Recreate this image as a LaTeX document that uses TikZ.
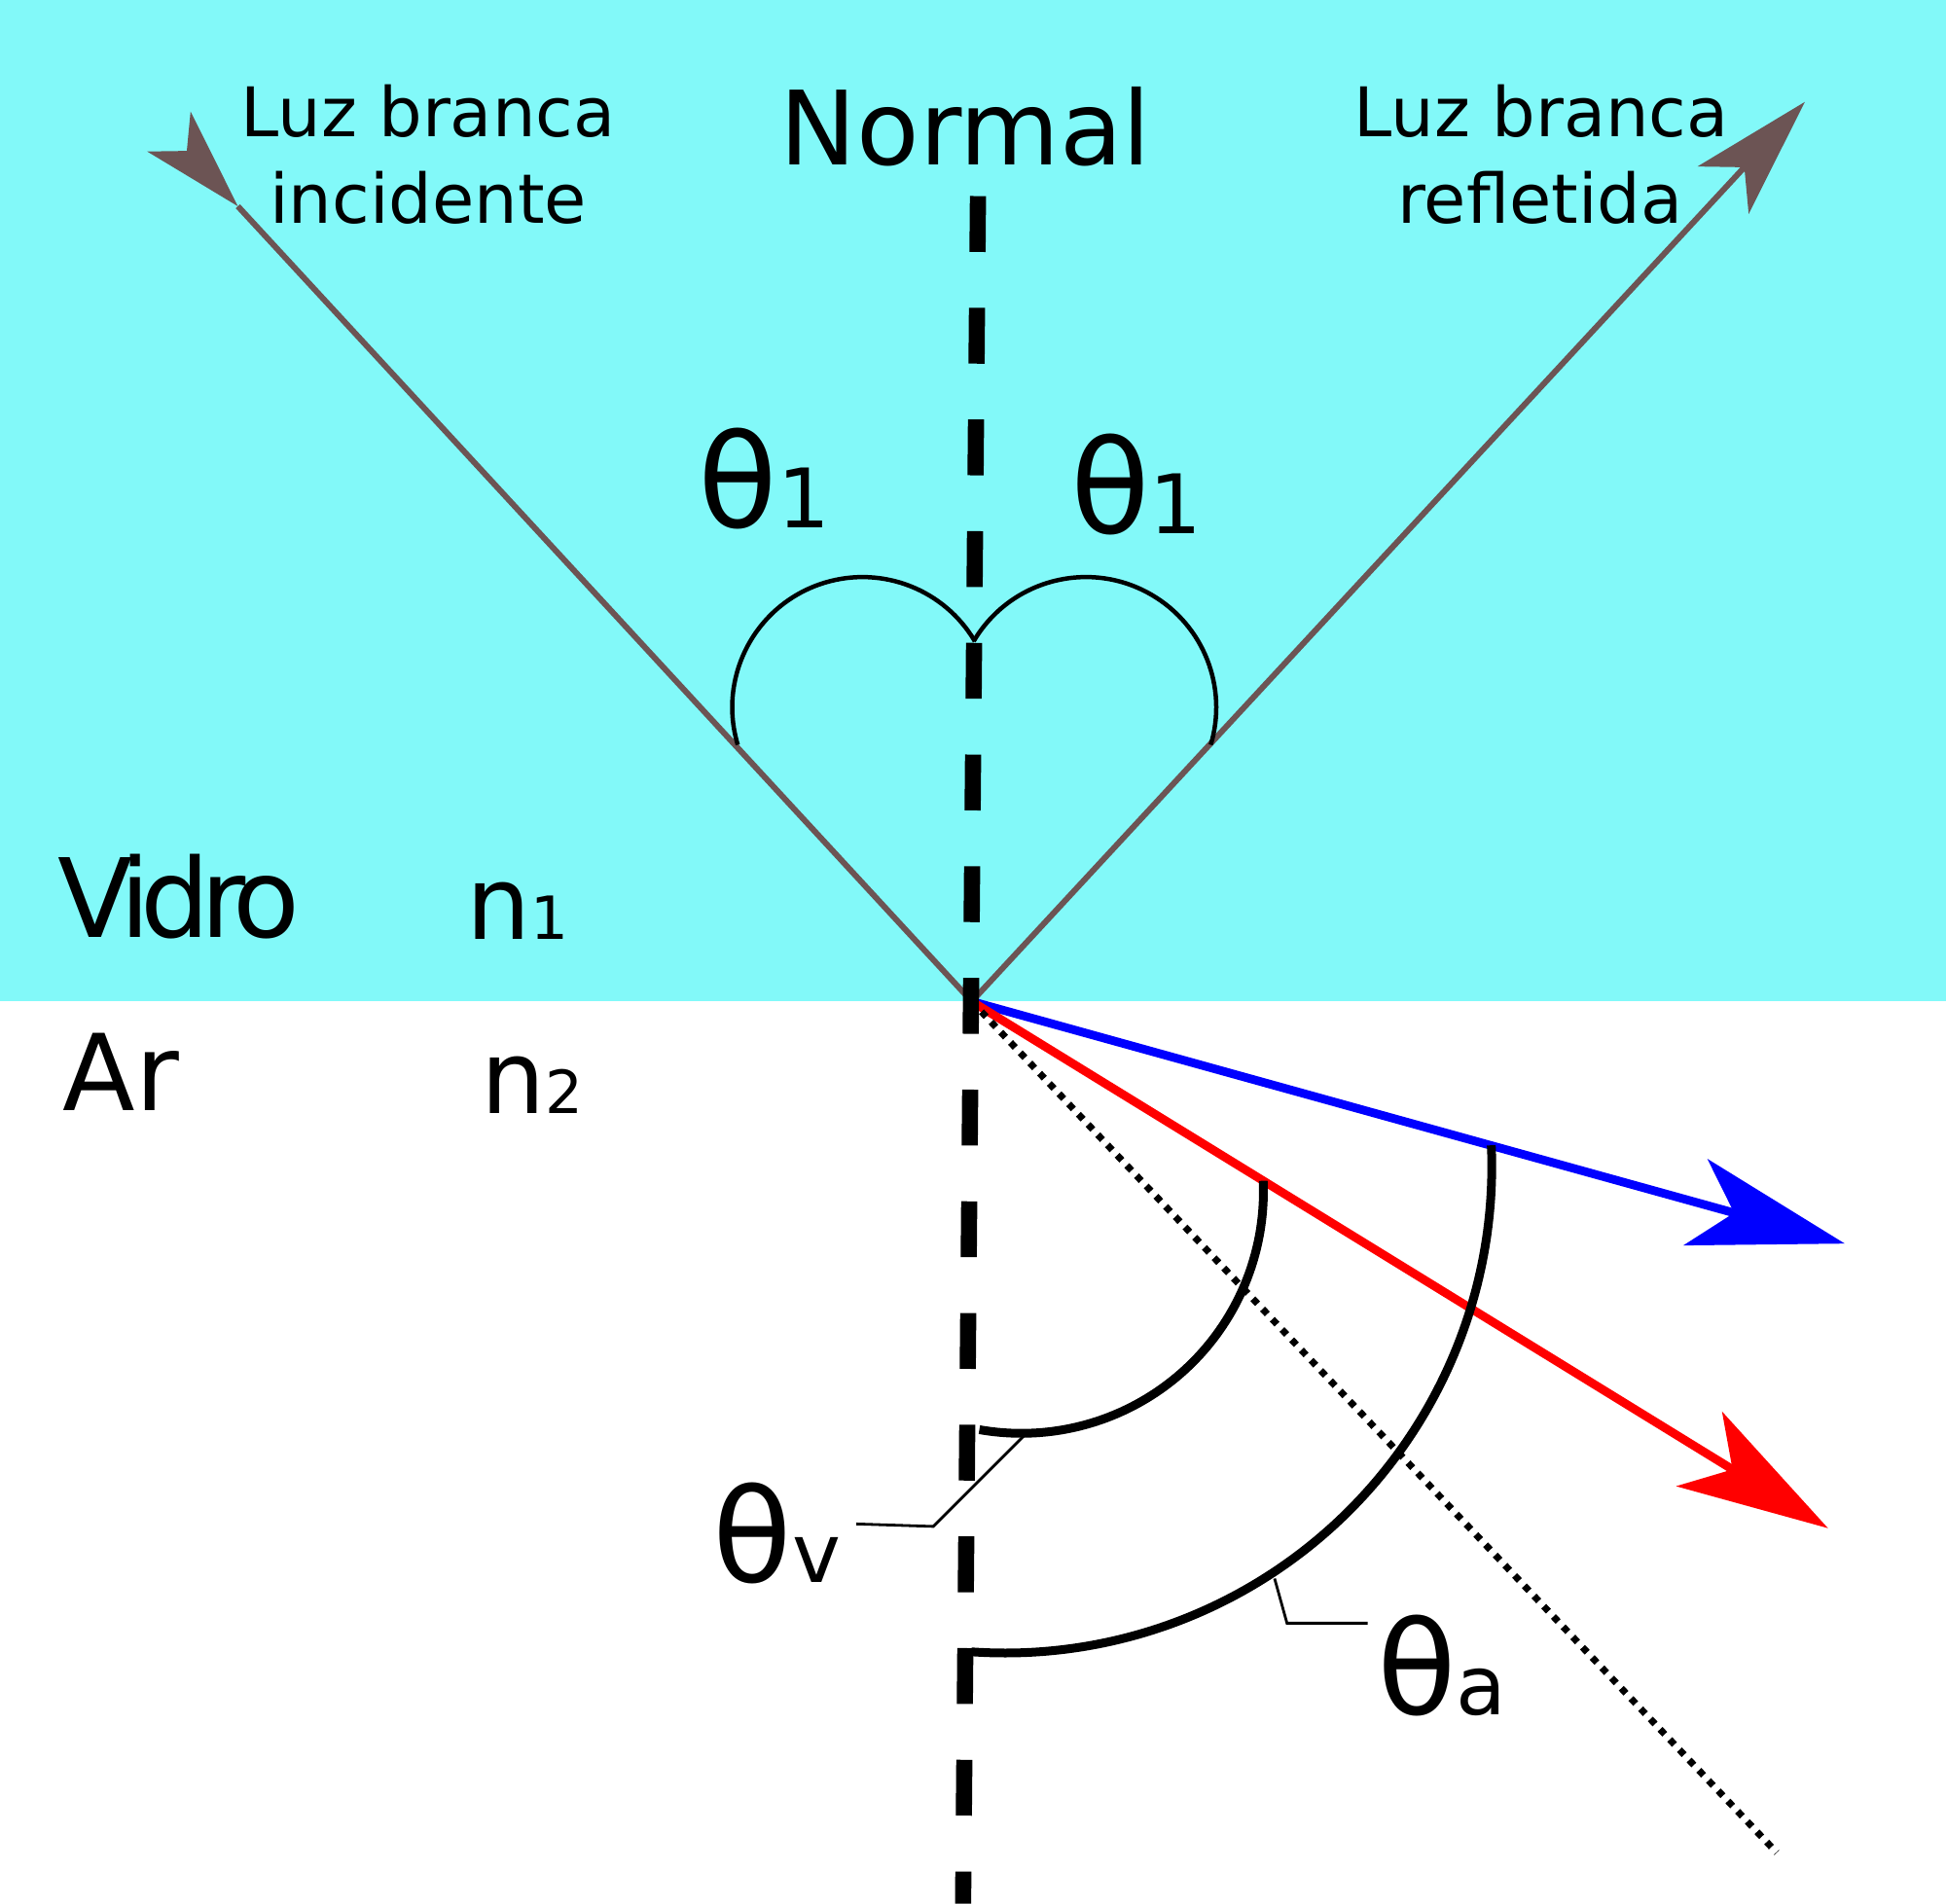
\documentclass[tikz,border=0pt]{standalone}
\usepackage{fontspec}
\setmainfont{DejaVu Sans}
\usetikzlibrary{calc}

\definecolor{vidro}{RGB}{130,249,249}
\definecolor{corraio}{RGB}{108,84,84}

\newcommand{\rotulo}[2]{{\fontsize{38}{40}\selectfont #1}{\fontsize{24}{26}\selectfont #2}}

\tikzset{
  ponta/.pic={\fill (0,0) -- (-1,0.29) -- (-0.74,0) -- (-1,-0.29) -- cycle;},
  normalline/.style={line width=1.66mm, dash pattern=on 5.74mm off 5.74mm},
  raio/.style={draw=corraio, line width=0.6mm},
  cor/.style={line width=0.88mm},
  arco/.style={line width=0.9mm},
  guia/.style={line width=0.28mm},
  rot/.style={inner sep=0pt}
}

\begin{document}
\begin{tikzpicture}[x=0.12755mm,y=-0.12755mm]

  \pgfmathsetmacro{\angInc}{227.3}
  \pgfmathsetmacro{\angRef}{-47.2}
  \pgfmathsetmacro{\angAzul}{15.5}
  \pgfmathsetmacro{\angVerm}{31.6}

  \useasboundingbox (0,0) rectangle (1568,1534);
  \fill[vidro] (0,0) rectangle (1568,807);

  \coordinate (centro) at (783,807);
  \coordinate (topoN) at (788,158);
  \coordinate (baseN) at (776,1534);

  \coordinate (incid) at ($(centro)+(\angInc:872)$);
  \coordinate (refl) at ($(centro)+(\angRef:988)$);
  \coordinate (azul) at ($(centro)+(\angAzul:730)$);
  \coordinate (verm) at ($(centro)+(\angVerm:810)$);
  \coordinate (pont) at ($(centro)+(46.6:944)$);

  \draw[raio] (centro) -- (incid);
  \draw[raio] (centro) -- ($(refl)+(\angRef+180:60)$);

  \draw[line width=0.45mm] ($(695,570)+(163.3:105)$) arc[start angle=163.3, end angle=329.5, radius=105];
  \draw[line width=0.45mm] ($(875,570)+(210.5:105)$) arc[start angle=210.5, end angle=376.7, radius=105];

  \draw[cor,blue] (centro) -- ($(azul)+(\angAzul+180:90)$);
  \draw[cor,red] (centro) -- ($(verm)+(\angVerm+180:90)$);
  \draw[line width=0.7mm, dash pattern=on 0.7mm off 0.75mm] (centro) -- (pont);

  \draw[normalline] (topoN) -- (baseN);

  \draw[arco] ($(823,960)+(-2.5:195)$) arc[start angle=-2.5, end angle=100, radius=195];
  \draw[arco] ($(810,940)+(-2.5:392)$) arc[start angle=-2.5, end angle=94, radius=392];

  \coordinate (guiaV) at (825,1157);
  \coordinate (guiaA) at (1027,1272);
  \draw[guia] (guiaV) -- (752,1230) -- (690,1228);
  \draw[guia] (guiaA) -- (1037,1308) -- (1102,1308);

  \pic[color=corraio, rotate=-(\angInc+180), scale=82] at (incid) {ponta};
  \pic[color=corraio, rotate=-\angRef, scale=97] at (refl) {ponta};
  \pic[color=blue, rotate=-\angAzul, scale=125] at (azul) {ponta};
  \pic[color=red, rotate=-\angVerm, scale=122] at (verm) {ponta};

  \node[rot,anchor=base] (incid1) at (345,110) {\fontsize{20}{24}\selectfont Luz branca};
  \node[rot,anchor=base] (incid2) at (345,180) {\fontsize{20}{24}\selectfont incidente};
  \node[rot,anchor=base] (refl1) at (1242,110) {\fontsize{20}{24}\selectfont Luz branca};
  \node[rot,anchor=base] (refl2) at (1241,180) {\fontsize{20}{24}\selectfont refletida};
  \node[rot,anchor=base] (normal) at (778,133) {\fontsize{30}{34}\selectfont Normal};

  \node[rot,anchor=base west] (teta1e) at (562,425) {\rotulo{θ}{1}};
  \node[rot,anchor=base west] (teta1d) at (862,430) {\rotulo{θ}{1}};
  \node[rot,anchor=base west] (tetav) at (574,1275) {\rotulo{θ}{v}};
  \node[rot,anchor=base west] (tetaa) at (1109,1382) {\rotulo{θ}{a}};

  \node[rot,anchor=base west] (vidro) at (46,755) {\fontsize{32}{36}\selectfont\addfontfeatures{LetterSpace=-9}Vidro};
  \node[rot,anchor=base west] (ar) at (50,895) {\fontsize{31}{34}\selectfont Ar};
  \node[rot,anchor=base west] (n1) at (375,757) {{\fontsize{29.7}{32}\selectfont n}{\fontsize{17.4}{20}\selectfont 1}};
  \node[rot,anchor=base west] (n2) at (387,897) {{\fontsize{29.7}{32}\selectfont n}{\fontsize{17.4}{20}\selectfont 2}};

\end{tikzpicture}
\end{document}
